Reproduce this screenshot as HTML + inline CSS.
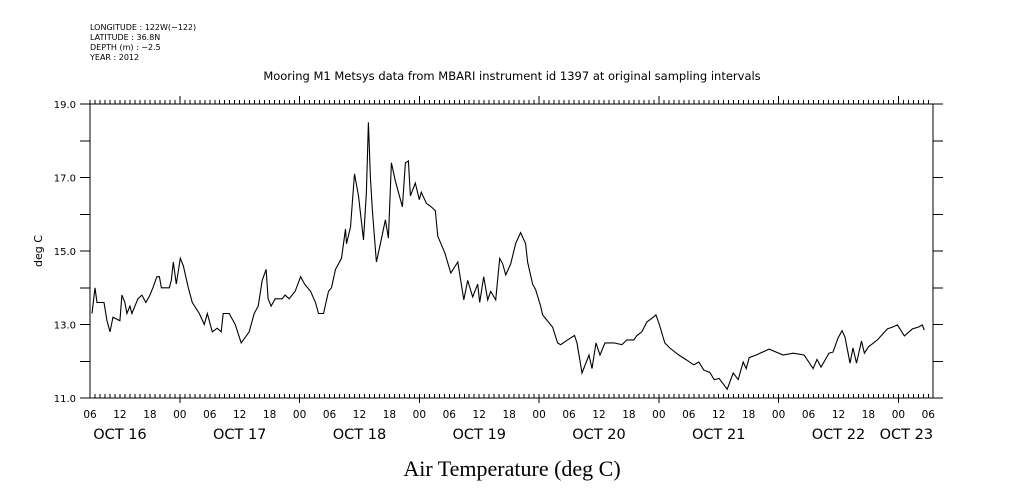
<!DOCTYPE html>
<html><head><meta charset="utf-8"><style>
body{margin:0;background:#fff;}
svg{display:block;font-family:"DejaVu Sans","Liberation Sans",sans-serif;}
</style></head><body>
<svg id="chart" width="1009" height="504" viewBox="0 0 1009 504" xmlns="http://www.w3.org/2000/svg">
<g font-size="8" fill="#000">
<text x="90" y="30">LONGITUDE : 122W(−122)</text>
<text x="90" y="40">LATITUDE : 36.8N</text>
<text x="90" y="50">DEPTH (m) : −2.5</text>
<text x="90" y="60">YEAR : 2012</text>
</g>
<text x="512" y="80" font-size="11.5" text-anchor="middle">Mooring M1 Metsys data from MBARI instrument id 1397 at original sampling intervals</text>
<text x="512" y="476" font-size="22" text-anchor="middle" font-family="Liberation Serif, serif">Air Temperature (deg C)</text>
<text x="42" y="251" font-size="11" text-anchor="middle" transform="rotate(-90 42 251)">deg C</text>
<g id="axes"></g>
<g id="plot"></g>
</svg>
<script>
const hours=[0.4,1.0,1.4,2.8,3.4,4.0,4.6,6.0,6.4,7.0,7.4,8.0,8.4,9.6,10.4,11.2,12.0,12.6,13.4,13.9,14.3,15.9,16.3,16.7,17.3,18.1,18.7,19.7,20.5,21.9,22.9,23.5,24.5,25.5,26.3,26.7,27.9,29.1,30.3,31.9,32.9,33.7,34.5,35.3,35.7,36.3,37.1,38.5,39.1,39.9,41.1,42.2,43.0,44.2,45.2,45.8,46.8,47.8,48.4,49.2,50.4,51.2,51.4,52.2,53.0,53.8,54.8,55.4,55.8,56.2,56.6,57.4,58.2,59.2,59.8,60.4,61.2,61.8,62.6,63.2,63.8,64.2,65.2,66.0,66.4,67.4,68.4,69.2,69.7,71.1,72.3,73.7,74.9,75.7,76.7,77.7,78.1,78.9,79.7,80.3,81.3,82.1,82.7,83.3,84.3,85.3,86.3,87.3,87.7,88.7,89.3,90.3,90.7,92.7,93.7,94.3,95.7,97.1,97.6,98.6,100.0,100.6,101.4,102.2,103.2,105.0,106.6,107.6,109.0,109.6,110.6,111.6,112.6,113.4,114.0,115.2,116.2,118.0,119.6,121.0,122.0,123.0,124.2,125.1,126.1,127.7,128.9,129.9,130.9,131.5,132.1,133.5,136.1,138.9,140.9,143.1,144.9,145.7,146.5,148.1,148.9,149.9,150.7,151.3,152.3,152.9,153.6,154.6,155.2,156.0,157.8,159.8,160.8,161.8,163.2,164.8,166.0,166.8,167.2];
const temps=[13.3,14.0,13.6,13.6,13.1,12.8,13.2,13.1,13.8,13.6,13.3,13.5,13.3,13.7,13.8,13.6,13.8,14.0,14.3,14.3,14.0,14.0,14.2,14.7,14.1,14.8,14.6,14.0,13.6,13.3,13.0,13.3,12.8,12.9,12.8,13.3,13.3,13.0,12.5,12.8,13.3,13.5,14.2,14.5,13.7,13.5,13.7,13.7,13.8,13.7,13.9,14.3,14.1,13.9,13.6,13.3,13.3,13.9,14.0,14.5,14.8,15.6,15.2,15.65,17.1,16.5,15.3,16.6,18.5,17.0,16.1,14.7,15.2,15.85,15.35,17.4,16.9,16.6,16.2,17.4,17.45,16.5,16.85,16.4,16.6,16.3,16.2,16.1,15.4,14.95,14.4,14.7,13.67,14.2,13.75,14.1,13.6,14.3,13.67,13.9,13.67,14.8,14.65,14.35,14.65,15.2,15.5,15.2,14.7,14.1,13.95,13.5,13.26,12.93,12.5,12.45,12.58,12.7,12.5,11.68,12.17,11.8,12.5,12.17,12.5,12.5,12.45,12.58,12.58,12.7,12.8,13.07,13.17,13.26,13.04,12.5,12.36,12.17,12.03,11.9,11.98,11.76,11.7,11.5,11.53,11.24,11.68,11.5,11.98,11.8,12.1,12.17,12.33,12.17,12.22,12.17,11.8,12.05,11.84,12.22,12.25,12.63,12.83,12.66,11.95,12.36,11.95,12.55,12.22,12.39,12.58,12.88,12.93,12.99,12.69,12.88,12.93,12.99,12.85];
const yTicks=[11,13,15,17,19];
const yTickLabels=["11.0","13.0","15.0","17.0","19.0"];
const hourLabels=["06","12","18","00"];
const dayLabels=["OCT 16","OCT 17","OCT 18","OCT 19","OCT 20","OCT 21","OCT 22","OCT 23"];

const NS="http://www.w3.org/2000/svg";
const L=90,R=933,T=104,B=398;
const xs=h=>L+h*4.99;
const ys=v=>B-(v-11)*(B-T)/8;
const axes=document.getElementById('axes'),plot=document.getElementById('plot');
function mk(tag,attrs,parent){const e=document.createElementNS(NS,tag);for(const k in attrs)e.setAttribute(k,attrs[k]);parent.appendChild(e);return e;}
const frame=mk('rect',{x:L,y:T,width:R-L,height:B-T,fill:'none',stroke:'#000','stroke-width':1,'shape-rendering':'crispEdges'},axes);


// y ticks every 1.0
for(let v=11;v<=19;v++){
  const t1=mk('line',{x1:L-10,x2:L,y1:ys(v),y2:ys(v),stroke:'#000','shape-rendering':'crispEdges'},axes);
  
  
  const t2=mk('line',{x1:R,x2:R+10,y1:ys(v),y2:ys(v),stroke:'#000','shape-rendering':'crispEdges'},axes);
  
  
}
yTicks.forEach((v,i)=>{
  const t=mk('text',{x:L-14,y:ys(v)+4,'font-size':10,'text-anchor':'end'},axes);
  t.textContent=yTickLabels[i];
  
  
});
// x ticks hourly
for(let h=0;h<=168;h++){
  const x=xs(h);if(x>R+0.5)break;
  const major=((h+6)%24===0);
  const lt=mk('line',{x1:x,x2:x,y1:T-(major?8:4),y2:T,stroke:'#000','shape-rendering':'crispEdges'},axes);
  
  
  const lb=mk('line',{x1:x,x2:x,y1:B-4,y2:B+(major?5:0),stroke:'#000','shape-rendering':'crispEdges'},axes);
  
  
  if(h%6===0){
    const t=mk('text',{x:x,y:418,'font-size':10.5,'text-anchor':'middle'},axes);
    t.textContent=hourLabels[(h/6)%4];
    
    
  }
}
dayLabels.forEach((d,i)=>{
  let x=xs(i*24+6);
  if(i===dayLabels.length-1)x=xs(i*24-6)+8;
  const t=mk('text',{x:x,y:439,'font-size':14.5,'text-anchor':'middle'},axes);
  t.textContent=d;
  
  
});
const pts=hours.map((h,i)=>xs(h).toFixed(1)+','+ys(temps[i]).toFixed(1)).join(' ');
const line=mk('polyline',{points:pts,fill:'none',stroke:'#000','stroke-width':1.1},plot);


</script>
</body></html>
